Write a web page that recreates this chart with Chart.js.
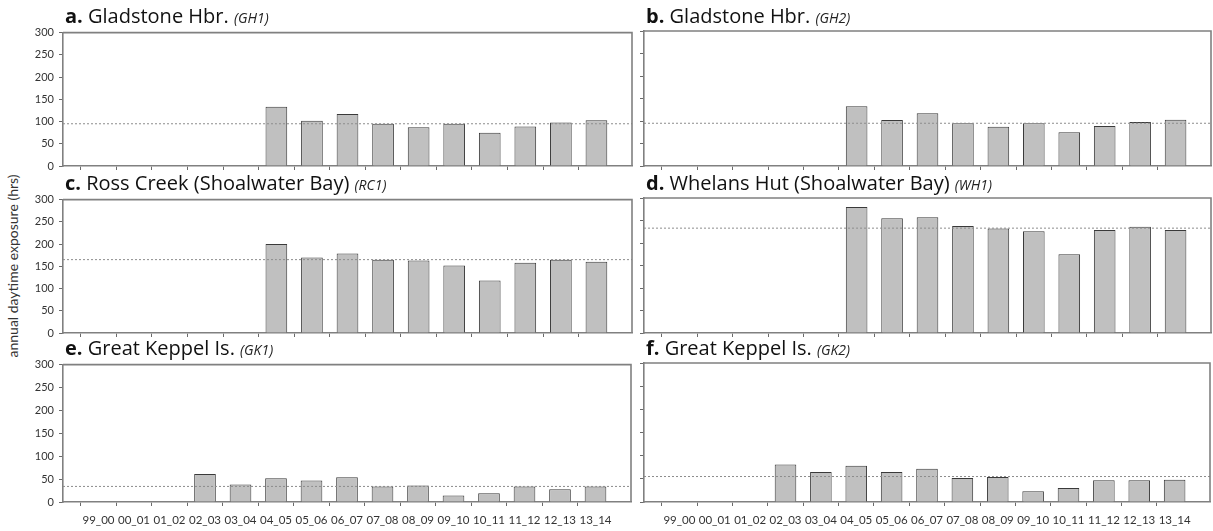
<!DOCTYPE html>
<html>
<head>
<meta charset="utf-8">
<script src="https://cdn.jsdelivr.net/npm/chart.js@4/dist/chart.umd.min.js"></script>
<style>
  html, body { margin: 0; padding: 0; background: #fff; }
  body { width: 1213px; height: 531px; position: relative; overflow: hidden; font-family: Lato, "Open Sans", sans-serif; }
  canvas { position: absolute; }
  .ttl { position: absolute; font-family: "Open Sans", Lato, sans-serif; font-size: 20px; color: #111; white-space: nowrap; line-height: 1; }
  .ttl b { font-weight: 700; }
  .ttl i { font-size: 14px; color: #222; }
  .ylab { position: absolute; font-size: 14px; color: #333; white-space: nowrap; transform-origin: center center; transform: translate(-50%, -50%) rotate(-90deg); }
</style>
</head>
<body>
<div class="ylab" style="left:12px; top:266px;">annual daytime exposure (hrs)</div>
<script>
// ---- data ----
const categories = ['99_00','00_01','01_02','02_03','03_04','04_05','05_06','06_07','07_08','08_09','09_10','10_11','11_12','12_13','13_14'];
const yTickValues = [0, 50, 100, 150, 200, 250, 300];
const gh1 = [null, null, null, null, null, 133, 102, 117, 95, 87, 95, 75, 89, 98, 103];
const gh2 = [null, null, null, null, null, 133, 102, 117, 95, 87, 95, 75, 89, 98, 103];
const rc1 = [null, null, null, null, null, 200, 170, 179, 165, 163, 152, 118, 158, 165, 160];
const wh1 = [null, null, null, null, null, 280, 255, 257, 238, 232, 226, 175, 229, 236, 229];
const gk1 = [null, null, null, 61, 38, 52, 47, 54, 34, 36, 14, 19, 34, 28, 34];
const gk2 = [null, null, null, 81, 65, 78, 65, 72, 52, 54, 23, 30, 47, 47, 48];
const meanLevels = { GH1: 95, GH2: 95, RC1: 165, WH1: 233, GK1: 34, GK2: 55 };
const panelLetters = ['a.', 'b.', 'c.', 'd.', 'e.', 'f.'];
const panelNames = ['Gladstone Hbr.', 'Gladstone Hbr.', 'Ross Creek (Shoalwater Bay)', 'Whelans Hut (Shoalwater Bay)', 'Great Keppel Is.', 'Great Keppel Is.'];
const panelCodes = ['GH1', 'GH2', 'RC1', 'WH1', 'GK1', 'GK2'];
const panelSeries = [gh1, gh2, rc1, wh1, gk1, gk2];

// ---- layout ----
const colsX = [[63, 632], [644, 1211]];
const rowsY = [[31, 166], [198, 333], [363, 502]];

const frame = {
  id: 'frame',
  afterDraw(chart) {
    const a = chart.chartArea, c = chart.ctx;
    c.save();
    c.strokeStyle = '#808080';
    c.lineWidth = 1.6;
    c.beginPath();
    c.moveTo(a.left, a.top); c.lineTo(a.right, a.top); c.lineTo(a.right, a.bottom);
    c.stroke();
    c.restore();
  }
};

const axisLabels = [''].concat(categories, ['']);

for (let p = 0; p < 6; p++) {
  const col = p % 2, row = Math.floor(p / 2);
  const [L, R] = colsX[col];
  const [T, B] = rowsY[row];
  const yW = col === 0 ? 40 : 12;
  const padTop = 10, padRight = 6;
  const xH = row === 2 ? 26 : 16;
  const cv = document.createElement('canvas');
  const w = R - L + yW + padRight, h = B - T + padTop + xH;
  cv.width = w; cv.height = h;
  cv.style.left = (L - yW) + 'px';
  cv.style.top = (T - padTop) + 'px';
  cv.style.width = w + 'px'; cv.style.height = h + 'px';
  document.body.appendChild(cv);

  const t = document.createElement('div');
  t.className = 'ttl';
  t.style.left = (L + 2) + 'px';
  t.style.top = (T - 25) + 'px';
  t.innerHTML = '<b>' + panelLetters[p] + '</b> ' + panelNames[p] + ' <i>(' + panelCodes[p] + ')</i>';
  document.body.appendChild(t);

  const vals = panelSeries[p];
  const mean = meanLevels[panelCodes[p]];
  new Chart(cv, {
    type: 'bar',
    data: {
      labels: axisLabels,
      datasets: [
        {
          type: 'bar',
          data: [null].concat(vals, [null]),
          backgroundColor: '#c0c0c0',
          borderColor: '#3a3a3a',
          borderWidth: 1,
          categoryPercentage: 1,
          barPercentage: 0.61,
          order: 2
        },
        {
          type: 'line',
          data: axisLabels.map(() => mean),
          borderColor: '#8c8c8c',
          borderWidth: 1,
          borderDash: [2, 2],
          pointRadius: 0,
          fill: false,
          order: 1
        }
      ]
    },
    options: {
      responsive: false,
      devicePixelRatio: 1,
      animation: false,
      events: [],
      layout: { padding: { top: padTop, right: padRight, left: 0, bottom: 0 } },
      plugins: { legend: { display: false }, tooltip: { enabled: false }, title: { display: false } },
      scales: {
        x: {
          type: 'category',
          offset: false,
          grid: {
            display: true, drawOnChartArea: false, drawTicks: true, tickLength: 4,
            tickColor: (ctx) => (ctx.index === 0 || ctx.index === axisLabels.length - 1) ? 'rgba(0,0,0,0)' : '#6a6a6a',
            tickWidth: 1
          },
          border: { display: true, color: '#808080', width: 1.6 },
          ticks: {
            display: row === 2, autoSkip: false, maxRotation: 0, minRotation: 0,
            font: { family: 'Lato', size: 11.5 }, color: '#333', padding: 7
          },
          afterFit: (s) => { s.height = xH; }
        },
        y: {
          min: 0, max: 300,
          afterBuildTicks: (s) => { s.ticks = yTickValues.map(v => ({ value: v })); },
          grid: { display: true, drawOnChartArea: false, drawTicks: true, tickLength: 4, tickColor: '#6a6a6a', tickWidth: 1 },
          border: { display: true, color: '#808080', width: 1.6 },
          ticks: { display: col === 0, font: { family: 'Lato', size: 11 }, color: '#333', padding: 5 },
          afterFit: (s) => { s.width = yW; }
        }
      }
    },
    plugins: [frame]
  });
}
</script>
</body>
</html>
